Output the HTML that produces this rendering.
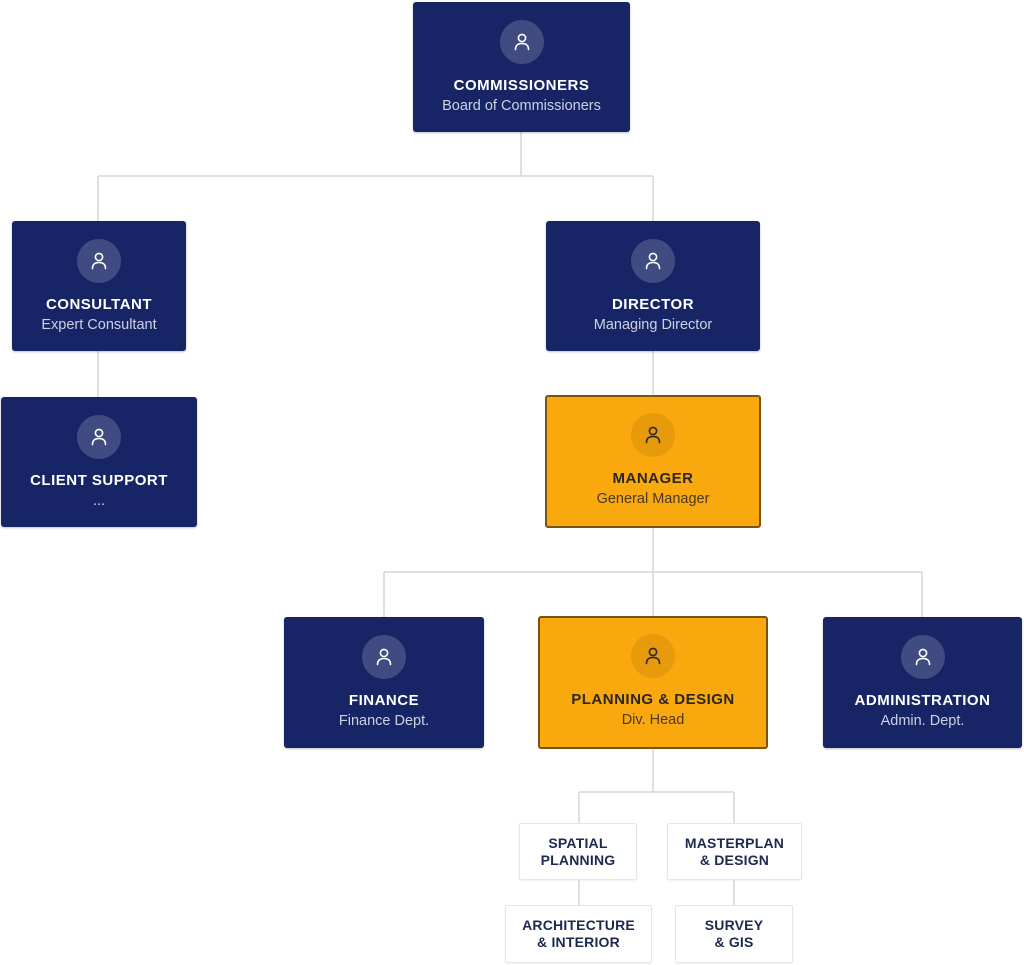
<!DOCTYPE html>
<html>
<head>
<meta charset="utf-8">
<style>
  html,body{margin:0;padding:0;background:#fff;}
  body{width:1024px;height:965px;position:relative;overflow:hidden;font-family:"Liberation Sans",Arial,sans-serif;}
  .box{position:absolute;box-sizing:border-box;border-radius:3px;}
  .navy{background:#172566;box-shadow:0 1px 2px rgba(0,0,0,0.25);}
  .orange{background:#F9A80E;border:2px solid #7a540f;}
  .circ{position:absolute;left:50%;width:44px;height:44px;margin-left:-22px;border-radius:50%;top:18px;}
  .navy .circ{background:rgba(255,255,255,0.18);}
  .orange .circ{background:rgba(120,70,0,0.14);top:16px;}
  .circ svg{position:absolute;left:12px;top:12px;}
  .t{position:absolute;left:0;right:0;text-align:center;font-weight:bold;font-size:15px;letter-spacing:0.5px;line-height:18px;top:75px;white-space:nowrap;}
  .s{position:absolute;left:0;right:0;text-align:center;font-size:14.5px;line-height:18px;top:95px;white-space:nowrap;}
  .orange .t{top:73px;}
  .orange .s{top:93px;}
  .navy .t{color:#fff;}
  .navy .s{color:#cdd1e2;}
  .orange .t{color:#2a2620;}
  .orange .s{color:#4a3a1c;}
  .sub{position:absolute;box-sizing:border-box;background:#fff;border:1px solid #e4e6ea;border-radius:2px;box-shadow:0 1px 2px rgba(0,0,0,0.05);display:flex;align-items:center;justify-content:center;text-align:center;color:#1d2a50;font-weight:bold;font-size:14px;line-height:17px;letter-spacing:0.2px;}
</style>
</head>
<body>
<svg width="1024" height="965" style="position:absolute;left:0;top:0;" fill="none" stroke="#d3d6dc" stroke-width="1.5">
  <line x1="521" y1="132" x2="521" y2="176"/>
  <line x1="98" y1="176" x2="653" y2="176"/>
  <line x1="98" y1="176" x2="98" y2="221"/>
  <line x1="653" y1="176" x2="653" y2="221"/>
  <line x1="98" y1="351" x2="98" y2="397"/>
  <line x1="653" y1="351" x2="653" y2="396"/>
  <line x1="653" y1="527" x2="653" y2="616"/>
  <line x1="384" y1="572" x2="922" y2="572"/>
  <line x1="384" y1="572" x2="384" y2="617"/>
  <line x1="922" y1="572" x2="922" y2="617"/>
  <line x1="653" y1="749" x2="653" y2="792"/>
  <line x1="579" y1="792" x2="734" y2="792"/>
  <line x1="579" y1="792" x2="579" y2="823"/>
  <line x1="734" y1="792" x2="734" y2="823"/>
  <line x1="579" y1="880" x2="579" y2="905"/>
  <line x1="734" y1="880" x2="734" y2="905"/>
</svg>

<!-- COMMISSIONERS -->
<div class="box navy" style="left:413px;top:2px;width:217px;height:130px;">
  <div class="circ"><svg width="20" height="20" viewBox="0 0 20 20" fill="none" stroke="#fff" stroke-width="1.6" stroke-linecap="round"><circle cx="10" cy="6" r="3.6"/><path d="M3.5 17.5 C3.5 13 6.5 11.5 10 11.5 C13.5 11.5 16.5 13 16.5 17.5"/></svg></div>
  <div class="t">COMMISSIONERS</div>
  <div class="s">Board of Commissioners</div>
</div>

<!-- CONSULTANT -->
<div class="box navy" style="left:12px;top:221px;width:174px;height:130px;">
  <div class="circ"><svg width="20" height="20" viewBox="0 0 20 20" fill="none" stroke="#fff" stroke-width="1.6" stroke-linecap="round"><circle cx="10" cy="6" r="3.6"/><path d="M3.5 17.5 C3.5 13 6.5 11.5 10 11.5 C13.5 11.5 16.5 13 16.5 17.5"/></svg></div>
  <div class="t">CONSULTANT</div>
  <div class="s">Expert Consultant</div>
</div>

<!-- DIRECTOR -->
<div class="box navy" style="left:546px;top:221px;width:214px;height:130px;">
  <div class="circ"><svg width="20" height="20" viewBox="0 0 20 20" fill="none" stroke="#fff" stroke-width="1.6" stroke-linecap="round"><circle cx="10" cy="6" r="3.6"/><path d="M3.5 17.5 C3.5 13 6.5 11.5 10 11.5 C13.5 11.5 16.5 13 16.5 17.5"/></svg></div>
  <div class="t">DIRECTOR</div>
  <div class="s">Managing Director</div>
</div>

<!-- CLIENT SUPPORT -->
<div class="box navy" style="left:1px;top:397px;width:196px;height:130px;">
  <div class="circ"><svg width="20" height="20" viewBox="0 0 20 20" fill="none" stroke="#fff" stroke-width="1.6" stroke-linecap="round"><circle cx="10" cy="6" r="3.6"/><path d="M3.5 17.5 C3.5 13 6.5 11.5 10 11.5 C13.5 11.5 16.5 13 16.5 17.5"/></svg></div>
  <div class="t">CLIENT SUPPORT</div>
  <div class="s">...</div>
</div>

<!-- MANAGER -->
<div class="box orange" style="left:545px;top:395px;width:216px;height:133px;">
  <div class="circ"><svg width="20" height="20" viewBox="0 0 20 20" fill="none" stroke="#2a2620" stroke-width="1.6" stroke-linecap="round"><circle cx="10" cy="6" r="3.6"/><path d="M3.5 17.5 C3.5 13 6.5 11.5 10 11.5 C13.5 11.5 16.5 13 16.5 17.5"/></svg></div>
  <div class="t">MANAGER</div>
  <div class="s">General Manager</div>
</div>

<!-- FINANCE -->
<div class="box navy" style="left:284px;top:617px;width:200px;height:131px;">
  <div class="circ"><svg width="20" height="20" viewBox="0 0 20 20" fill="none" stroke="#fff" stroke-width="1.6" stroke-linecap="round"><circle cx="10" cy="6" r="3.6"/><path d="M3.5 17.5 C3.5 13 6.5 11.5 10 11.5 C13.5 11.5 16.5 13 16.5 17.5"/></svg></div>
  <div class="t">FINANCE</div>
  <div class="s">Finance Dept.</div>
</div>

<!-- PLANNING & DESIGN -->
<div class="box orange" style="left:538px;top:616px;width:230px;height:133px;">
  <div class="circ"><svg width="20" height="20" viewBox="0 0 20 20" fill="none" stroke="#2a2620" stroke-width="1.6" stroke-linecap="round"><circle cx="10" cy="6" r="3.6"/><path d="M3.5 17.5 C3.5 13 6.5 11.5 10 11.5 C13.5 11.5 16.5 13 16.5 17.5"/></svg></div>
  <div class="t">PLANNING &amp; DESIGN</div>
  <div class="s">Div. Head</div>
</div>

<!-- ADMINISTRATION -->
<div class="box navy" style="left:823px;top:617px;width:199px;height:131px;">
  <div class="circ"><svg width="20" height="20" viewBox="0 0 20 20" fill="none" stroke="#fff" stroke-width="1.6" stroke-linecap="round"><circle cx="10" cy="6" r="3.6"/><path d="M3.5 17.5 C3.5 13 6.5 11.5 10 11.5 C13.5 11.5 16.5 13 16.5 17.5"/></svg></div>
  <div class="t">ADMINISTRATION</div>
  <div class="s">Admin. Dept.</div>
</div>

<!-- Sub units -->
<div class="sub" style="left:519px;top:823px;width:118px;height:57px;">SPATIAL<br>PLANNING</div>
<div class="sub" style="left:667px;top:823px;width:135px;height:57px;">MASTERPLAN<br>&amp; DESIGN</div>
<div class="sub" style="left:505px;top:905px;width:147px;height:58px;">ARCHITECTURE<br>&amp; INTERIOR</div>
<div class="sub" style="left:675px;top:905px;width:118px;height:58px;">SURVEY<br>&amp; GIS</div>
</body>
</html>
